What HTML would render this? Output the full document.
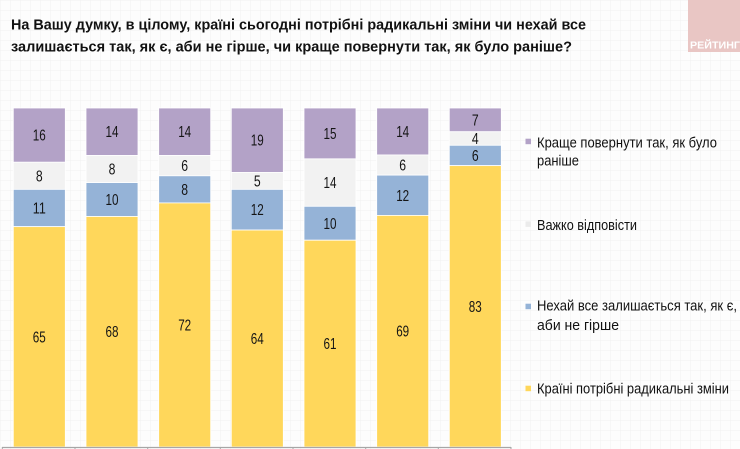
<!DOCTYPE html>
<html>
<head>
<meta charset="utf-8">
<style>
  html,body{margin:0;padding:0;background:#fff;}
  body{width:740px;height:449px;overflow:hidden;}
  svg{display:block;}
  .t{font-family:"Liberation Sans Narrow","Liberation Sans",sans-serif;font-weight:bold;font-size:14.8px;fill:#111;}
  .l{font-family:"Liberation Sans Narrow","Liberation Sans",sans-serif;font-size:14.5px;fill:#111;}
  .n{font-family:"Liberation Sans Narrow","Liberation Sans",sans-serif;font-size:15.5px;fill:#151515;text-anchor:middle;}
</style>
</head>
<body>
<svg width="740" height="449" viewBox="0 0 740 449" xmlns="http://www.w3.org/2000/svg">
  <defs>
    <pattern id="grid" width="10" height="10" patternUnits="userSpaceOnUse">
      <path d="M10 0 L0 0 0 10" fill="none" stroke="#f1f1f1" stroke-width="1"/>
    </pattern>
  </defs>
  <rect x="0" y="0" width="740" height="449" fill="#fdfdfd"/>
  <rect x="0" y="0" width="740" height="449" fill="url(#grid)"/>

  <!-- logo -->
  <rect x="688" y="0" width="52" height="52" fill="#e9c6c4"/>
  <text x="690" y="48.5" font-family="Liberation Sans, sans-serif" font-weight="bold" font-size="10" fill="#ffffff" textLength="50" lengthAdjust="spacingAndGlyphs">РЕЙТИНГ</text>

  <!-- title -->
  <text class="t" x="11" y="29.5" textLength="575" lengthAdjust="spacingAndGlyphs">На Вашу думку, в цілому, країні сьогодні потрібні радикальні зміни чи нехай все</text>
  <text class="t" x="11" y="51.5" textLength="561" lengthAdjust="spacingAndGlyphs">залишається так, як є, аби не гірше, чи краще повернути так, як було раніше?</text>

  <!-- bars -->
  <g stroke="#ffffff" stroke-width="0.8">
    <rect x="13.3" y="108" width="52" height="54.24" fill="#b3a2c7"/>
    <rect x="13.3" y="162.24" width="52" height="27.12" fill="#f2f2f2"/>
    <rect x="13.3" y="189.36" width="52" height="37.29" fill="#95b3d7"/>
    <rect x="13.3" y="226.65" width="52" height="220.35" fill="#ffd75b"/>

    <rect x="86" y="108" width="52" height="47.46" fill="#b3a2c7"/>
    <rect x="86" y="155.46" width="52" height="27.12" fill="#f2f2f2"/>
    <rect x="86" y="182.58" width="52" height="33.9" fill="#95b3d7"/>
    <rect x="86" y="216.48" width="52" height="230.52" fill="#ffd75b"/>

    <rect x="158.7" y="108" width="52" height="47.46" fill="#b3a2c7"/>
    <rect x="158.7" y="155.46" width="52" height="20.34" fill="#f2f2f2"/>
    <rect x="158.7" y="175.8" width="52" height="27.12" fill="#95b3d7"/>
    <rect x="158.7" y="202.92" width="52" height="244.08" fill="#ffd75b"/>

    <rect x="231.3" y="108" width="52" height="64.41" fill="#b3a2c7"/>
    <rect x="231.3" y="172.41" width="52" height="16.95" fill="#f2f2f2"/>
    <rect x="231.3" y="189.36" width="52" height="40.68" fill="#95b3d7"/>
    <rect x="231.3" y="230.04" width="52" height="216.96" fill="#ffd75b"/>

    <rect x="304" y="108" width="52" height="50.85" fill="#b3a2c7"/>
    <rect x="304" y="158.85" width="52" height="47.46" fill="#f2f2f2"/>
    <rect x="304" y="206.31" width="52" height="33.9" fill="#95b3d7"/>
    <rect x="304" y="240.21" width="52" height="206.79" fill="#ffd75b"/>

    <rect x="376.7" y="108" width="52" height="46.99" fill="#b3a2c7"/>
    <rect x="376.7" y="154.99" width="52" height="20.14" fill="#f2f2f2"/>
    <rect x="376.7" y="175.13" width="52" height="40.28" fill="#95b3d7"/>
    <rect x="376.7" y="215.41" width="52" height="231.59" fill="#ffd75b"/>

    <rect x="449.3" y="108" width="52" height="23.73" fill="#b3a2c7"/>
    <rect x="449.3" y="131.73" width="52" height="13.56" fill="#f2f2f2"/>
    <rect x="449.3" y="145.29" width="52" height="20.34" fill="#95b3d7"/>
    <rect x="449.3" y="165.63" width="52" height="281.37" fill="#ffd75b"/>
  </g>

  <!-- labels -->
  <g>
    <text class="n" x="39.3" y="140.6" textLength="13" lengthAdjust="spacingAndGlyphs">16</text>
    <text class="n" x="39.3" y="181.3" textLength="6.8" lengthAdjust="spacingAndGlyphs">8</text>
    <text class="n" x="39.3" y="213.5" textLength="13" lengthAdjust="spacingAndGlyphs">11</text>
    <text class="n" x="39.3" y="342.3" textLength="13" lengthAdjust="spacingAndGlyphs">65</text>

    <text class="n" x="112" y="137.2" textLength="13" lengthAdjust="spacingAndGlyphs">14</text>
    <text class="n" x="112" y="174.5" textLength="6.8" lengthAdjust="spacingAndGlyphs">8</text>
    <text class="n" x="112" y="205" textLength="13" lengthAdjust="spacingAndGlyphs">10</text>
    <text class="n" x="112" y="337.2" textLength="13" lengthAdjust="spacingAndGlyphs">68</text>

    <text class="n" x="184.7" y="137.2" textLength="13" lengthAdjust="spacingAndGlyphs">14</text>
    <text class="n" x="184.7" y="171.1" textLength="6.8" lengthAdjust="spacingAndGlyphs">6</text>
    <text class="n" x="184.7" y="194.9" textLength="6.8" lengthAdjust="spacingAndGlyphs">8</text>
    <text class="n" x="184.7" y="330.5" textLength="13" lengthAdjust="spacingAndGlyphs">72</text>

    <text class="n" x="257.3" y="145.7" textLength="13" lengthAdjust="spacingAndGlyphs">19</text>
    <text class="n" x="257.3" y="186.4" textLength="6.8" lengthAdjust="spacingAndGlyphs">5</text>
    <text class="n" x="257.3" y="215.2" textLength="13" lengthAdjust="spacingAndGlyphs">12</text>
    <text class="n" x="257.3" y="344" textLength="13" lengthAdjust="spacingAndGlyphs">64</text>

    <text class="n" x="330" y="138.9" textLength="13" lengthAdjust="spacingAndGlyphs">15</text>
    <text class="n" x="330" y="188.1" textLength="13" lengthAdjust="spacingAndGlyphs">14</text>
    <text class="n" x="330" y="228.8" textLength="13" lengthAdjust="spacingAndGlyphs">10</text>
    <text class="n" x="330" y="349.1" textLength="13" lengthAdjust="spacingAndGlyphs">61</text>

    <text class="n" x="402.7" y="137" textLength="13" lengthAdjust="spacingAndGlyphs">14</text>
    <text class="n" x="402.7" y="170.6" textLength="6.8" lengthAdjust="spacingAndGlyphs">6</text>
    <text class="n" x="402.7" y="200.8" textLength="13" lengthAdjust="spacingAndGlyphs">12</text>
    <text class="n" x="402.7" y="336.7" textLength="13" lengthAdjust="spacingAndGlyphs">69</text>

    <text class="n" x="475.3" y="125.4" textLength="6.8" lengthAdjust="spacingAndGlyphs">7</text>
    <text class="n" x="475.3" y="144" textLength="6.8" lengthAdjust="spacingAndGlyphs">4</text>
    <text class="n" x="475.3" y="161" textLength="6.8" lengthAdjust="spacingAndGlyphs">6</text>
    <text class="n" x="475.3" y="311.8" textLength="13" lengthAdjust="spacingAndGlyphs">83</text>
  </g>

  <!-- axis -->
  <line x1="2" y1="447.5" x2="511" y2="447.5" stroke="#a6a6a6" stroke-width="1.2"/>
  <g stroke="#a6a6a6" stroke-width="1">
    <line x1="2.3" y1="447" x2="2.3" y2="449"/>
    <line x1="75" y1="447" x2="75" y2="449"/>
    <line x1="147.7" y1="447" x2="147.7" y2="449"/>
    <line x1="220.3" y1="447" x2="220.3" y2="449"/>
    <line x1="293" y1="447" x2="293" y2="449"/>
    <line x1="365.7" y1="447" x2="365.7" y2="449"/>
    <line x1="438.3" y1="447" x2="438.3" y2="449"/>
    <line x1="511" y1="447" x2="511" y2="449"/>
  </g>

  <!-- legend -->
  <rect x="525.5" y="138.7" width="5.5" height="5.5" fill="#b3a2c7"/>
  <text class="l" x="537" y="147.7" textLength="180" lengthAdjust="spacingAndGlyphs">Краще повернути так, як було</text>
  <text class="l" x="537" y="165.7" textLength="42" lengthAdjust="spacingAndGlyphs">раніше</text>

  <rect x="525.5" y="221.4" width="5.5" height="5.5" fill="#ebebeb"/>
  <text class="l" x="537" y="230" textLength="100" lengthAdjust="spacingAndGlyphs">Важко відповісти</text>

  <rect x="525.5" y="303.7" width="5.5" height="5.5" fill="#95b3d7"/>
  <text class="l" x="537" y="310.7" textLength="200" lengthAdjust="spacingAndGlyphs">Нехай все залишається так, як є,</text>
  <text class="l" x="537" y="330" textLength="82" lengthAdjust="spacingAndGlyphs">аби не гірше</text>

  <rect x="525.5" y="385.7" width="5.5" height="5.5" fill="#ffd75b"/>
  <text class="l" x="537" y="393.3" textLength="192" lengthAdjust="spacingAndGlyphs">Країні потрібні радикальні зміни</text>
</svg>
</body>
</html>
